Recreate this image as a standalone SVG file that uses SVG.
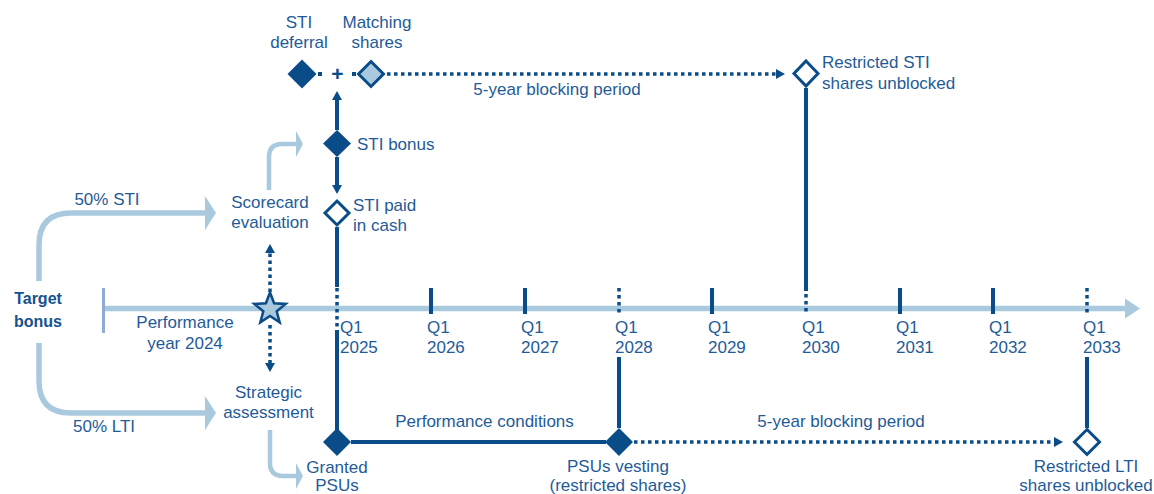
<svg xmlns="http://www.w3.org/2000/svg" width="1154" height="494" viewBox="0 0 1154 494">
<style>
text{font-family:"Liberation Sans",Arial,sans-serif;font-size:17px;fill:#1f5b98}
.b{font-weight:bold;font-size:16px;fill:#14528f}
.m{text-anchor:middle}
.dk{stroke:#0a4c87;stroke-width:4;fill:none}
.dot{stroke:#0a4c87;stroke-width:3.5;fill:none;stroke-dasharray:3.5 3.5}
.lt{stroke:#a9c9df;fill:none}
.fd{fill:#0a4c87}
.hd{fill:#fff;stroke:#0a4c87;stroke-width:3}
.tk{stroke:#0a4c87;stroke-width:4}
</style>
<defs>
<marker id="ad" markerUnits="userSpaceOnUse" markerWidth="10" markerHeight="10" refX="0" refY="5" orient="auto"><path d="M0,0L9,5L0,10z" fill="#0a4c87"/></marker>
<marker id="alb" markerUnits="userSpaceOnUse" markerWidth="12" markerHeight="34" refX="0" refY="17" orient="auto"><path d="M0,0L11,17L0,34z" fill="#a9c9df"/></marker>
<marker id="als" markerUnits="userSpaceOnUse" markerWidth="8" markerHeight="26" refX="0" refY="13" orient="auto"><path d="M0,0L7,13L0,26z" fill="#a9c9df"/></marker>
<marker id="aax" markerUnits="userSpaceOnUse" markerWidth="16" markerHeight="20" refX="0" refY="10" orient="auto"><path d="M0,0L15,10L0,20z" fill="#a9c9df"/></marker>
</defs>

<g id="connectors">
  <line x1="105" y1="308.5" x2="1125" y2="308.5" class="lt" stroke-width="5.5" marker-end="url(#aax)"/>
  <path d="M39,281V245Q39,213 71,213H205" class="lt" stroke-width="5.5" marker-end="url(#alb)"/>
  <path d="M39,343V381Q39,413 71,413H205" class="lt" stroke-width="5.5" marker-end="url(#alb)"/>
  <path d="M269,190V157Q269,144 282,144H296" class="lt" stroke-width="4.5" marker-end="url(#als)"/>
  <path d="M270,430V463Q270,476 283,476H296" class="lt" stroke-width="4.5" marker-end="url(#als)"/>
  <line x1="270" y1="292" x2="270" y2="253" class="dot" marker-end="url(#ad)"/>
  <line x1="270" y1="325" x2="270" y2="363" class="dot" marker-end="url(#ad)"/>
  <line x1="337" y1="130" x2="337" y2="100" class="dk" marker-end="url(#ad)"/>
  <line x1="337" y1="157" x2="337" y2="185" class="dk" marker-end="url(#ad)"/>
  <line x1="337" y1="227" x2="337" y2="287" class="dk"/>
  <line x1="337" y1="288" x2="337" y2="330" class="dot"/>
  <line x1="337" y1="330" x2="337" y2="430" class="dk"/>
  <line x1="318" y1="74" x2="322" y2="74" class="dk" stroke-width="3.5"/>
  <line x1="352" y1="74" x2="356" y2="74" class="dk" stroke-width="3.5"/>
  <line x1="387" y1="74" x2="776" y2="74" class="dot" marker-end="url(#ad)"/>
  <line x1="806" y1="88" x2="806" y2="291" class="dk"/>
  <line x1="806" y1="294" x2="806" y2="313" class="dot"/>
  <line x1="351" y1="442" x2="606" y2="442" class="dk"/>
  <line x1="619" y1="357" x2="619" y2="428" class="dk"/>
  <line x1="634" y1="442" x2="1054" y2="442" class="dot" marker-end="url(#ad)"/>
  <line x1="1087" y1="357" x2="1087" y2="428" class="dk"/>
</g>

<g id="axis">
  <line x1="103.5" y1="288" x2="103.5" y2="333" stroke="#8eaad5" stroke-width="3"/>
  <line x1="431" y1="288" x2="431" y2="314" class="tk"/>
  <line x1="525" y1="288" x2="525" y2="314" class="tk"/>
  <line x1="619" y1="288" x2="619" y2="314" class="dot"/>
  <line x1="712" y1="288" x2="712" y2="314" class="tk"/>
  <line x1="900" y1="288" x2="900" y2="314" class="tk"/>
  <line x1="993" y1="288" x2="993" y2="314" class="tk"/>
  <line x1="1087" y1="288" x2="1087" y2="314" class="dot"/>
  <text x="340" y="333">Q1</text><text x="340" y="353">2025</text>
  <text x="427" y="333">Q1</text><text x="427" y="353">2026</text>
  <text x="521" y="333">Q1</text><text x="521" y="353">2027</text>
  <text x="615" y="333">Q1</text><text x="615" y="353">2028</text>
  <text x="708" y="333">Q1</text><text x="708" y="353">2029</text>
  <text x="802" y="333">Q1</text><text x="802" y="353">2030</text>
  <text x="896" y="333">Q1</text><text x="896" y="353">2031</text>
  <text x="989" y="333">Q1</text><text x="989" y="353">2032</text>
  <text x="1083" y="333">Q1</text><text x="1083" y="353">2033</text>
  <text x="185" y="328" class="m">Performance</text>
  <text x="185" y="349" class="m">year 2024</text>
</g>

<g id="target-bonus">
  <text x="38" y="304" class="b m">Target</text>
  <text x="38" y="327" class="b m">bonus</text>
</g>
<g id="split-labels">
  <text x="107" y="205" class="m">50% STI</text>
  <text x="104" y="432" class="m">50% LTI</text>
</g>

<g id="star">
  <polygon points="270,292.5 274.1,303.3 285.7,303.9 276.7,311.2 279.7,322.4 270,316 260.3,322.4 263.3,311.2 254.3,303.9 265.9,303.3" fill="#a9c9df" stroke="#0a4c87" stroke-width="2.5"/>
</g>

<g id="scorecard">
  <text x="270" y="208" class="m">Scorecard</text>
  <text x="270" y="228" class="m">evaluation</text>
</g>
<g id="strategic">
  <text x="268.5" y="398" class="m">Strategic</text>
  <text x="268.5" y="418" class="m">assessment</text>
</g>

<g id="sti-deferral">
  <polygon points="302,59.5 316.5,74 302,88.5 287.5,74" class="fd"/>
  <text x="299" y="28" class="m">STI</text>
  <text x="299" y="48" class="m">deferral</text>
</g>
<g id="plus">
  <text x="337.5" y="81" class="m" style="font-weight:bold;font-size:21px;fill:#0a4c87">+</text>
</g>
<g id="matching-shares">
  <polygon points="371,61.5 383.5,74 371,86.5 358.5,74" fill="#a9c9df" stroke="#0a4c87" stroke-width="3"/>
  <text x="377" y="28" class="m">Matching</text>
  <text x="377" y="48" class="m">shares</text>
</g>
<g id="blocking-sti">
  <text x="557" y="95" class="m">5-year blocking period</text>
</g>
<g id="sti-unblocked">
  <polygon points="806,61 818,73.5 806,86 794,73.5" class="hd"/>
  <text x="822" y="68">Restricted STI</text>
  <text x="822" y="89">shares unblocked</text>
</g>
<g id="sti-bonus">
  <polygon points="337,130 351,143.5 337,157 323,143.5" class="fd"/>
  <text x="357" y="150">STI bonus</text>
</g>
<g id="sti-cash">
  <polygon points="337,201 349,213 337,225 325,213" class="hd"/>
  <text x="353" y="211">STI paid</text>
  <text x="353" y="231">in cash</text>
</g>

<g id="granted-psus">
  <polygon points="337,428 351,442 337,456 323,442" class="fd"/>
  <text x="337" y="473" class="m">Granted</text>
  <text x="337" y="491" class="m">PSUs</text>
</g>
<g id="perf-conditions">
  <text x="484.5" y="427" class="m">Performance conditions</text>
</g>
<g id="psus-vesting">
  <polygon points="619,428 633,442 619,456 605,442" class="fd"/>
  <text x="618" y="472" class="m">PSUs vesting</text>
  <text x="618" y="491" class="m">(restricted shares)</text>
</g>
<g id="blocking-lti">
  <text x="841" y="427" class="m">5-year blocking period</text>
</g>
<g id="lti-unblocked">
  <polygon points="1087,429.5 1099.5,442 1087,454.5 1074.5,442" class="hd"/>
  <text x="1086" y="472" class="m">Restricted LTI</text>
  <text x="1086" y="491" class="m">shares unblocked</text>
</g>
</svg>
